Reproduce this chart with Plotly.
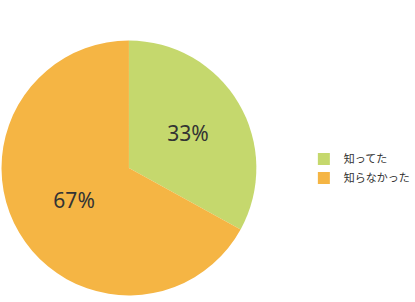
import plotly.graph_objects as go

labels = ["知ってた", "知らなかった"]
values = [33, 67]
colors = ["#c5d86d", "#f5b544"]

fig = go.Figure(go.Pie(
    labels=labels, values=values, sort=False, direction="clockwise", rotation=0,
    marker=dict(colors=colors, line=dict(width=0)),
    textinfo="percent", textposition="inside", insidetextorientation="horizontal",
    texttemplate="%{percent:.0%}",
    textfont=dict(size=21, color="#333333", family="Noto Sans"),
    domain=dict(x=[0.004, 0.68], y=[1-299/302, 1-37/302]),
    hoverinfo="none",
))
fig.update_layout(
    width=415, height=302, margin=dict(l=0, r=0, t=0, b=0),
    paper_bgcolor="white", plot_bgcolor="white",
    legend=dict(x=0.806, y=0.442, xanchor="left", yanchor="middle",
                font=dict(size=11, color="#333333", family="Noto Sans CJK JP"),
                itemwidth=30, tracegroupgap=0),
    showlegend=True,
)
fig.write_html("out.html")
